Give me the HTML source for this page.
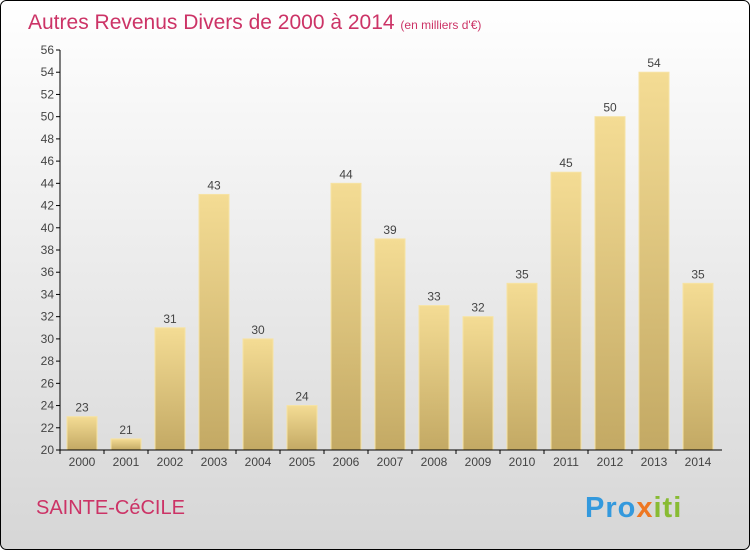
<!DOCTYPE html>
<html><head><meta charset="utf-8"><style>
html,body{margin:0;padding:0;width:750px;height:550px;overflow:hidden}
svg{display:block;font-family:"Liberation Sans",sans-serif}
</style></head><body>
<svg id="chart" width="750" height="550">
<defs>
<linearGradient id="bg" x1="0" y1="0" x2="0" y2="1"><stop offset="0" stop-color="#ffffff"/><stop offset="1" stop-color="#d6d6d6"/></linearGradient>
<linearGradient id="bar" x1="0" y1="0" x2="0" y2="1"><stop offset="0" stop-color="#f4dc94"/><stop offset="1" stop-color="#c3a964"/></linearGradient>
</defs>
<rect x="0.5" y="0.5" width="749" height="549" rx="6" fill="url(#bg)" stroke="#000"/>
<text x="28" y="29" font-size="21" fill="#cc3366">Autres Revenus Divers de 2000 à 2014 <tspan font-size="12">(en milliers d'€)</tspan></text>
<text x="36" y="514" font-size="20" fill="#cc3366">SAINTE-CéCILE</text>
<text x="585" y="517" font-size="29" font-weight="bold" letter-spacing="1"><tspan fill="#3399dd">Pro</tspan><tspan fill="#ee7722">x</tspan><tspan fill="#88bb33">iti</tspan></text>
<g id="plot"></g>
</svg>
<script>
const years=["2000","2001","2002","2003","2004","2005","2006","2007","2008","2009","2010","2011","2012","2013","2014"];
const values=[23,21,31,43,30,24,44,39,33,32,35,45,50,54,35];
const yTicks=[20,22,24,26,28,30,32,34,36,38,40,42,44,46,48,50,52,54,56];
const NS="http://www.w3.org/2000/svg";
const g=document.getElementById('plot');
const y=v=>450-(v-20)*400/36;
const x=i=>82+i*44;
function mk(t,a){const e=document.createElementNS(NS,t);for(const k in a)e.setAttribute(k,a[k]);g.appendChild(e);return e;}
yTicks.forEach(t=>{
 const l=mk('line',{x1:56,x2:60,y1:y(t),y2:y(t),stroke:'#000'});
 
 
 const tx=mk('text',{x:54,y:y(t)+4,'text-anchor':'end','font-size':12,fill:'#444'});
 tx.textContent=t;
 
 
});
values.forEach((v,i)=>{
 const r=mk('rect',{x:x(i)-15,y:y(v),width:30,height:450-y(v),fill:'url(#bar)',stroke:'#f6e3a4','stroke-width':1});
 
 
 const t=mk('text',{x:x(i),y:y(v)-5,'text-anchor':'middle','font-size':12,fill:'#444'});
 t.textContent=v;
 
 
 const xl=mk('text',{x:x(i),y:466,'text-anchor':'middle','font-size':12,fill:'#444'});
 xl.textContent=years[i];
 
 
 const tk=mk('line',{x1:x(i)-22,x2:x(i)-22,y1:450,y2:454,stroke:'#000'});
 
 
});
const ya=mk('line',{x1:60,x2:60,y1:50,y2:450,stroke:'#000'});


const xa=mk('line',{x1:60,x2:722,y1:450,y2:450,stroke:'#000'});


</script>
</body></html>
